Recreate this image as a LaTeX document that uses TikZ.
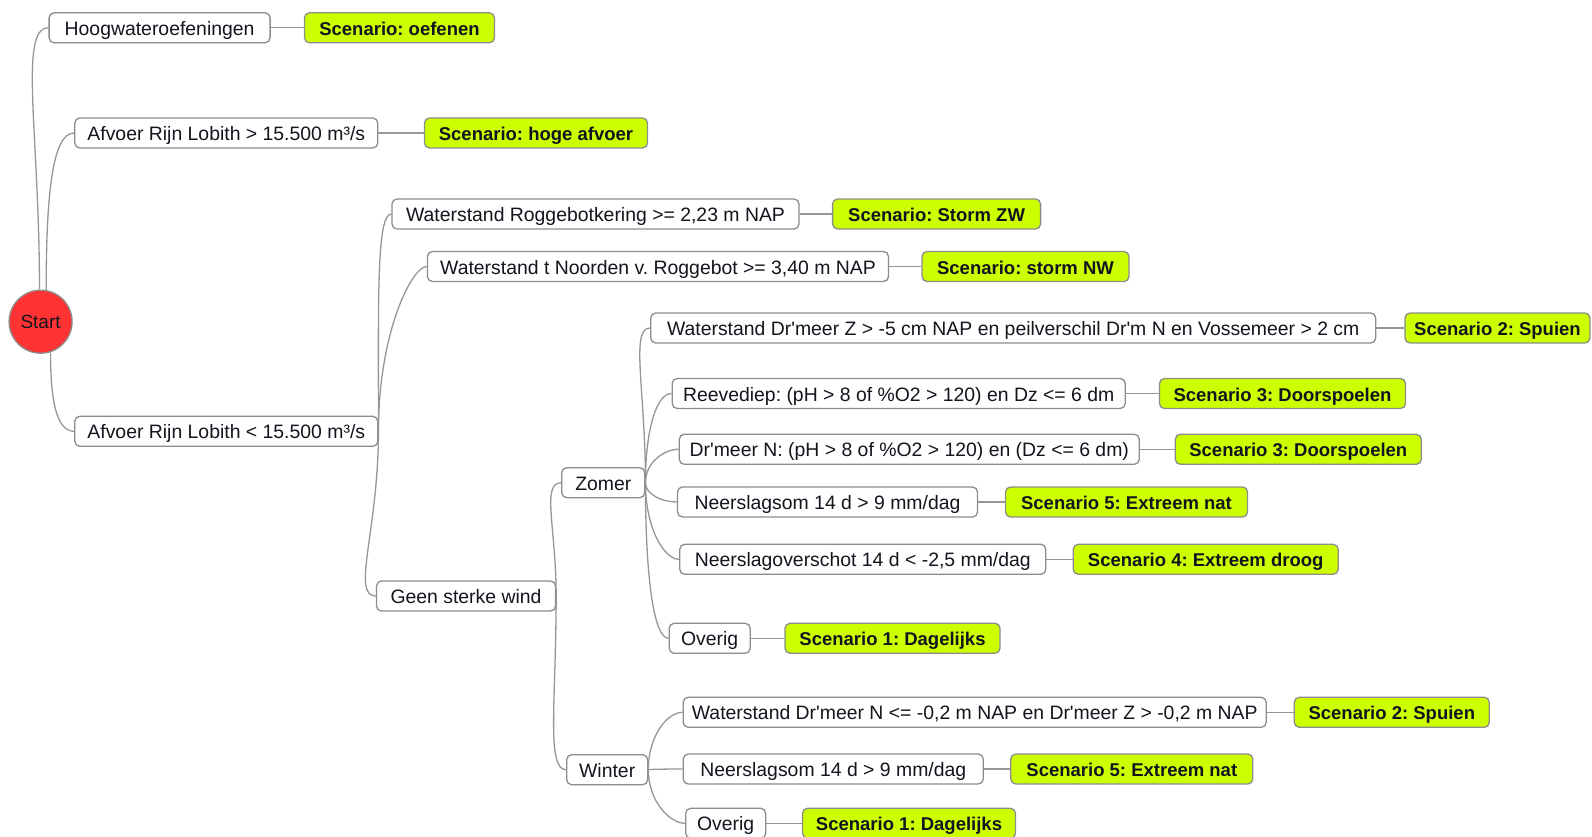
\documentclass[tikz,border=0pt]{standalone}
\usepackage{fontspec}
\setmainfont{Liberation Sans}
\usetikzlibrary{calc}
\definecolor{bordergray}{RGB}{140,140,140}
\definecolor{linegray}{RGB}{150,150,150}
\definecolor{scgreen}{RGB}{204,255,0}
\definecolor{startred}{RGB}{255,51,51}
\definecolor{txt}{RGB}{20,20,30}
\frenchspacing
\tikzset{
  box/.style={draw=bordergray, line width=1.3pt, rounded corners=5pt, fill=white,
    minimum height=30pt, inner sep=0pt, text height=15pt, text depth=0pt,
    text=txt, font=\fontsize{19.4}{22}\selectfont},
  scen/.style={box, fill=scgreen, font=\fontsize{18.5}{22}\selectfont\bfseries},
  conn/.style={draw=linegray, line width=1.3pt},
}
\newcommand\mmedge[3][20]{\draw[conn] (#2) .. controls ($(#2)!0.6!(#2|-#3)$) and ($(#3)+(-#1,0)$) .. (#3);}
\begin{document}
\begin{tikzpicture}[x=1pt,y=-1pt]
\useasboundingbox (0,0) rectangle (1592,837);
% start
\node[circle, draw=bordergray, line width=1.3pt, fill=startred, minimum size=63pt, inner sep=0pt,
  text=txt, text height=14pt, text depth=0pt, font=\fontsize{19}{22}\selectfont] (start) at (40.6,321.7) {Start};
% level 1
\node[box, minimum width=221pt] (hoog) at (159.6,27.8) {Hoogwateroefeningen};
\node[scen, minimum width=190pt] (scoef) at (399.5,27.8) {Scenario: oefenen};
\node[box, minimum width=303pt] (afvhi) at (226.3,133) {Afvoer Rijn Lobith > 15.500 m³/s};
\node[scen, minimum width=223pt] (schoge) at (536,133) {Scenario: hoge afvoer};
\node[box, minimum width=303pt] (afvlo) at (226.3,431.3) {Afvoer Rijn Lobith < 15.500 m³/s};
% level 2
\node[box, minimum width=407pt] (rog) at (595.5,214) {Waterstand Roggebotkering >= 2,23 m NAP};
\node[scen, minimum width=208pt] (sczw) at (936.6,214) {Scenario: Storm ZW};
\node[box, minimum width=461pt] (noord) at (658,266.5) {Waterstand t Noorden v. Roggebot >= 3,40 m NAP};
\node[scen, minimum width=207pt] (scnw) at (1025.5,266.5) {Scenario: storm NW};
\node[box, minimum width=179pt] (geen) at (466,596) {Geen sterke wind};
% level 3
\node[box, minimum width=83pt] (zomer) at (603.3,482.7) {Zomer};
\node[box, minimum width=81pt] (winter) at (607.2,769.7) {Winter};
% zomer children
\node[box, minimum width=725pt] (watz) at (1013.2,328) {Waterstand Dr\textquotesingle meer Z > -5 cm NAP en peilverschil Dr\textquotesingle m N en Vossemeer > 2 cm};
\node[scen, minimum width=185pt] (sctwoa) at (1497.5,328) {Scenario 2: Spuien};
\node[box, minimum width=453pt] (reeve) at (898.7,393.5) {Reevediep: (pH > 8 of \%O2 > 120) en Dz <= 6 dm};
\node[scen, minimum width=246pt] (scthreea) at (1282.5,393.5) {Scenario 3: Doorspoelen};
\node[box, minimum width=460pt] (drn) at (909.3,449.3) {Dr\textquotesingle meer N: (pH > 8 of \%O2 > 120) en (Dz <= 6 dm)};
\node[scen, minimum width=246pt] (scthreeb) at (1298.3,449.3) {Scenario 3: Doorspoelen};
\node[box, minimum width=300pt] (neera) at (827.5,502) {Neerslagsom 14 d > 9 mm/dag};
\node[scen, minimum width=242pt] (scfivea) at (1126.5,502) {Scenario 5: Extreem nat};
\node[box, minimum width=366pt] (neerov) at (862.8,559.3) {Neerslagoverschot 14 d < -2,5 mm/dag};
\node[scen, minimum width=265pt] (scfour) at (1205.7,559.3) {Scenario 4: Extreem droog};
\node[box, minimum width=81pt] (overz) at (709.7,638.3) {Overig};
\node[scen, minimum width=215pt] (sconea) at (892.5,638.3) {Scenario 1: Dagelijks};
% winter children
\node[box, minimum width=583pt] (watn) at (974.7,712.3) {Waterstand Dr\textquotesingle meer N <= -0,2 m NAP en Dr\textquotesingle meer Z > -0,2 m NAP};
\node[scen, minimum width=195pt] (sctwob) at (1391.8,712.3) {Scenario 2: Spuien};
\node[box, minimum width=300pt] (neerb) at (833.3,769) {Neerslagsom 14 d > 9 mm/dag};
\node[scen, minimum width=242pt] (scfiveb) at (1131.8,769) {Scenario 5: Extreem nat};
\node[box, minimum width=80pt] (overw) at (725.7,823.3) {Overig};
\node[scen, minimum width=213pt] (sconeb) at (909,823.3) {Scenario 1: Dagelijks};
% connectors from start
\mmedge[30]{start.92}{hoog.west}
\mmedge[22]{start.80}{afvhi.west}
\mmedge[18]{start.-72}{afvlo.west}
% box to scenario
\draw[conn] (hoog.east) -- (scoef.west);
\draw[conn] (afvhi.east) -- (schoge.west);
\draw[conn] (rog.east) -- (sczw.west);
\draw[conn] (noord.east) -- (scnw.west);
\draw[conn] (watz.east) -- (sctwoa.west);
\draw[conn] (reeve.east) -- (scthreea.west);
\draw[conn] (drn.east) -- (scthreeb.west);
\draw[conn] (neera.east) -- (scfivea.west);
\draw[conn] (neerov.east) -- (scfour.west);
\draw[conn] (overz.east) -- (sconea.west);
\draw[conn] (watn.east) -- (sctwob.west);
\draw[conn] (neerb.east) -- (scfiveb.west);
\draw[conn] (overw.east) -- (sconeb.west);
% tree connectors
\mmedge[15]{afvlo.east}{rog.west}
\mmedge[15]{afvlo.east}{noord.west}
\mmedge[25]{afvlo.east}{geen.west}
\mmedge[20]{geen.east}{zomer.west}
\mmedge[20]{geen.east}{winter.west}
\mmedge[20]{zomer.east}{watz.west}
\mmedge[15]{zomer.east}{reeve.west}
\mmedge[15]{zomer.east}{drn.west}
\mmedge[15]{zomer.east}{neera.west}
\mmedge[15]{zomer.east}{neerov.west}
\mmedge[15]{zomer.east}{overz.west}
\mmedge[15]{winter.east}{watn.west}
\mmedge[15]{winter.east}{neerb.west}
\mmedge[15]{winter.east}{overw.west}
\end{tikzpicture}
\end{document}
